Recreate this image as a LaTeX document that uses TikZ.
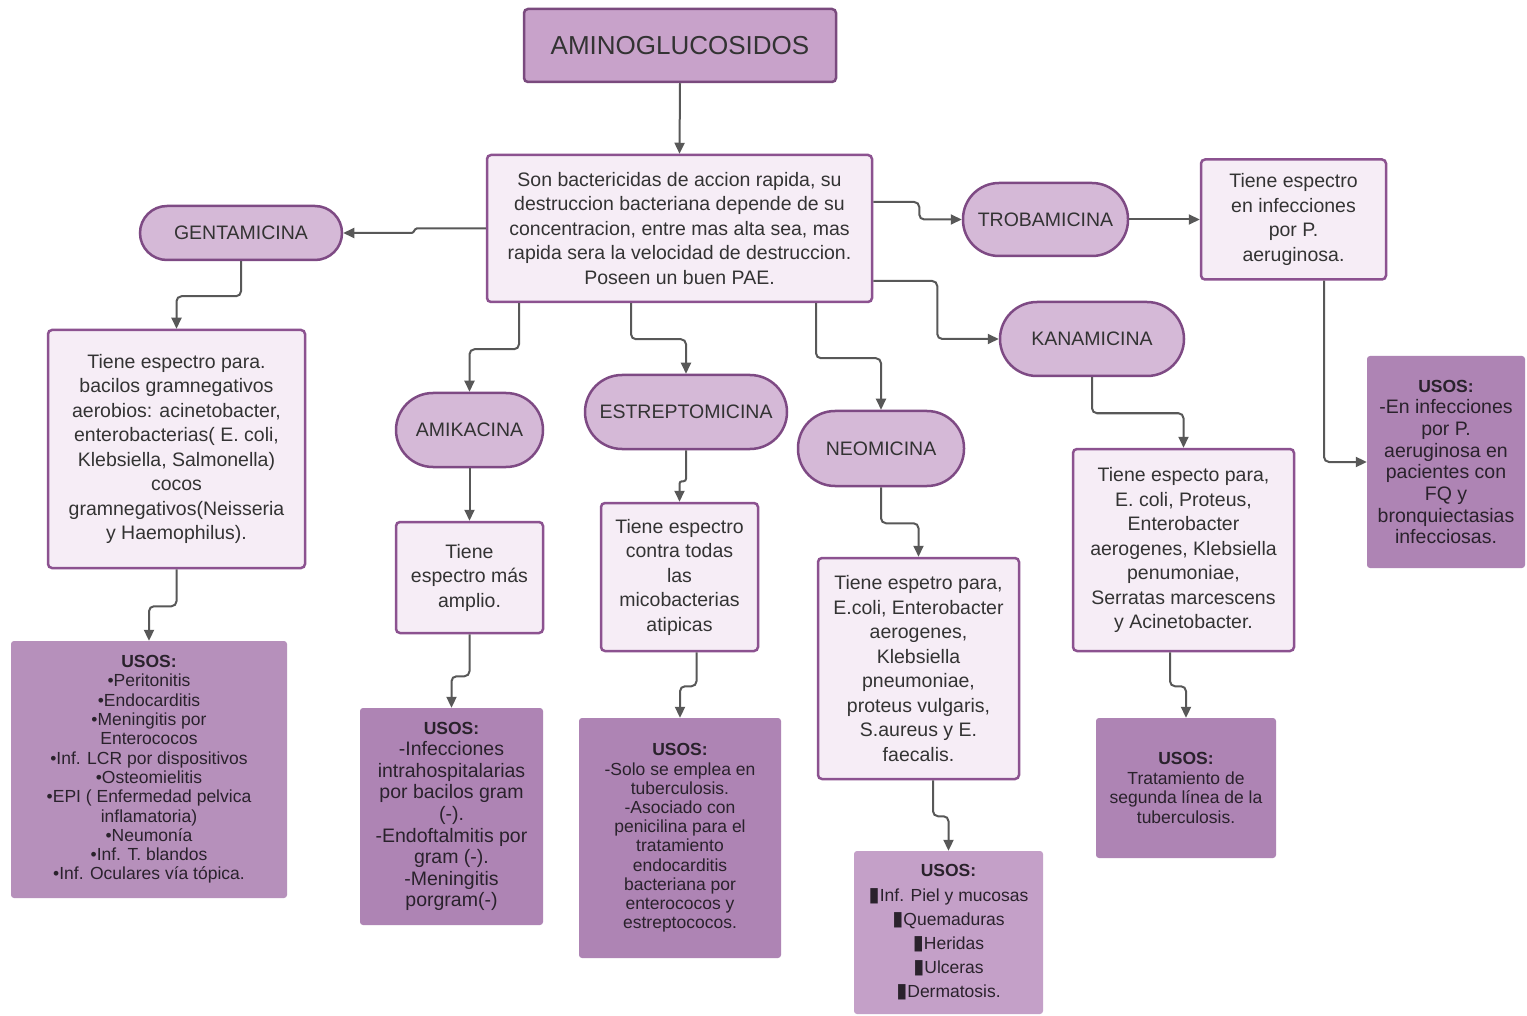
\documentclass[tikz,border=0pt]{standalone}
\usepackage{fontspec}
\setmainfont{Liberation Sans}
\newfontfamily\dejavu{DejaVu Sans}
\usetikzlibrary{arrows.meta}
\definecolor{titlefill}{HTML}{C8A2CA}
\definecolor{titledraw}{HTML}{7A4A7E}
\definecolor{pillfill}{HTML}{D5B9D7}
\definecolor{pilldraw}{HTML}{7E4A84}
\definecolor{lightfill}{HTML}{F6EDF6}
\definecolor{lightdraw}{HTML}{8C5290}
\definecolor{usosfill}{HTML}{AE84B4}
\definecolor{usosneo}{HTML}{C4A0C8}
\definecolor{usosgent}{HTML}{B690BB}
\definecolor{txt}{HTML}{333333}
\definecolor{usostxt}{HTML}{2A222C}
\definecolor{arr}{HTML}{585858}
\newcommand{\blk}{{\dejavu\scalebox{1.15}[1.15]{\char"25AE}}}
\tikzset{
  x=1pt, y=-1pt,
  titlebox/.style={draw=titledraw, fill=titlefill, line width=2.5pt, rounded corners=4pt,
    inner sep=0pt, align=center, text=txt, font=\fontsize{26}{30}\selectfont},
  pill/.style={draw=pilldraw, fill=pillfill, line width=2.5pt, inner sep=0pt,
    align=center, text=txt, font=\fontsize{19.5}{24}\selectfont},
  lightbox/.style={draw=lightdraw, fill=lightfill, line width=2.5pt, rounded corners=4pt,
    inner sep=0pt, align=center, text=txt, font=\fontsize{19.5}{24.5}\selectfont},
  usosbox/.style={fill=usosfill, rounded corners=3pt, inner sep=0pt, align=center, text=usostxt},
  conn/.style={draw=arr, line width=2pt, rounded corners=5pt,
    -{Triangle[length=11pt,width=10pt]}},
}
\begin{document}
\begin{tikzpicture}
\fill[white] (0,0) rectangle (1527,1016);
\useasboundingbox (0,0) rectangle (1527,1016);

% title and center
\node[titlebox, minimum width=312pt, minimum height=73pt] (ti) at (680,45.5) {AMINOGLUCOSIDOS};
\node[lightbox, minimum width=385pt, minimum height=147pt] (c) at (679.5,228.5)
  {Son bactericidas de accion rapida, su\\destruccion bacteriana depende de su\\concentracion, entre mas alta sea, mas\\rapida sera la velocidad de destruccion.\\Poseen un buen PAE.};

% pills
\node[pill, rounded corners=27pt, minimum width=202pt, minimum height=54pt] (ge) at (241,233) {GENTAMICINA};
\node[pill, rounded corners=36pt, minimum width=165pt, minimum height=73pt] (tr) at (1045.5,219.5) {TROBAMICINA};
\node[pill, rounded corners=37pt, minimum width=184pt, minimum height=74pt] (ka) at (1092,339) {KANAMICINA};
\node[pill, rounded corners=37pt, minimum width=147pt, minimum height=74pt] (am) at (469.5,430) {AMIKACINA};
\node[pill, rounded corners=37pt, minimum width=202pt, minimum height=74pt] (es) at (686,412) {ESTREPTOMICINA};
\node[pill, rounded corners=37pt, minimum width=166pt, minimum height=75pt] (ne) at (881,448.5) {NEOMICINA};

% light text boxes
\node[lightbox, minimum width=257pt, minimum height=238pt] (gt) at (176.5,449)
  {Tiene espectro para.\\bacilos gramnegativos\\aerobios: acinetobacter,\\enterobacterias( E. coli,\\Klebsiella, Salmonella)\\cocos\\gramnegativos(Neisseria\\y Haemophilus).};
\node[lightbox, minimum width=185pt, minimum height=120pt] (tt) at (1293.5,219.5)
  {Tiene espectro\\en infecciones\\por P.\\aeruginosa.};
\node[lightbox, minimum width=221pt, minimum height=202pt] (kt) at (1183.5,550)
  {Tiene especto para,\\E. coli, Proteus,\\Enterobacter\\aerogenes, Klebsiella\\penumoniae,\\Serratas marcescens\\y Acinetobacter.};
\node[lightbox, minimum width=147pt, minimum height=111pt] (at) at (469.5,577.5)
  {Tiene\\espectro más\\amplio.};
\node[lightbox, minimum width=157pt, minimum height=148pt] (et) at (679.5,577)
  {Tiene espectro\\contra todas\\las\\micobacterias\\atipicas};
\node[lightbox, minimum width=201pt, minimum height=221pt] (nt) at (918.5,668.5)
  {Tiene espetro para,\\E.coli, Enterobacter\\aerogenes,\\Klebsiella\\pneumoniae,\\proteus vulgaris,\\S.aureus y E.\\faecalis.};

% usos boxes
\node[usosbox, fill=usosgent, minimum width=276pt, minimum height=257pt,
  font=\fontsize{17.5}{19.3}\selectfont] (gu) at (149,769.5)
  {\textbf{USOS:}\\•Peritonitis\\•Endocarditis\\•Meningitis por\\Enterococos\\•Inf. LCR por dispositivos\\•Osteomielitis\\•EPI ( Enfermedad pelvica\\inflamatoria)\\•Neumonía\\•Inf. T. blandos\\•Inf. Oculares vía tópica.};
\node[usosbox, minimum width=183pt, minimum height=217pt,
  font=\fontsize{19.5}{21.6}\selectfont] (au) at (451.5,816.5)
  {{\fontsize{17.5}{21.6}\selectfont\textbf{USOS:}}\\-Infecciones\\intrahospitalarias\\por bacilos gram\\(-).\\-Endoftalmitis por\\gram (-).\\-Meningitis\\porgram(-)};
\node[usosbox, minimum width=202pt, minimum height=240pt,
  font=\fontsize{17.5}{19.2}\selectfont] (eu) at (680,838)
  {\textbf{USOS:}\\-Solo se emplea en\\tuberculosis.\\-Asociado con\\penicilina para el\\tratamiento\\endocarditis\\bacteriana por\\enterococos y\\estreptococos.};
\node[usosbox, fill=usosneo, minimum width=189pt, minimum height=163pt,
  font=\fontsize{17.5}{24.2}\selectfont] (nu) at (948.5,932.5)
  {\textbf{USOS:}\\\blk Inf. Piel y mucosas\\\blk Quemaduras\\\blk Heridas\\\blk Ulceras\\\blk Dermatosis.};
\node[usosbox, minimum width=180pt, minimum height=140pt,
  font=\fontsize{17.5}{19.7}\selectfont] (ku) at (1186,788)
  {\textbf{USOS:}\\Tratamiento de\\segunda línea de la\\tuberculosis.};
\node[usosbox, minimum width=158pt, minimum height=212pt,
  font=\fontsize{19.5}{21.7}\selectfont] (tu) at (1446,462)
  {{\fontsize{17.5}{21.7}\selectfont\textbf{USOS:}}\\-En infecciones\\por P.\\aeruginosa en\\pacientes con\\FQ y\\bronquiectasias\\infecciosas.};

% connectors
\draw[conn] (ti.south) -- (c.north);
\draw[conn, rounded corners=1pt] (c.west) -- ++(-70,0) -- ++(-3,4.5) -- (ge.east);
\draw[conn] ([yshift=26.5pt]c.east) -- ++(46,0) |- (tr.west);
\draw[conn] ([yshift=-52.5pt]c.east) -- ++(64,0) |- (ka.west);
\draw[conn] ([xshift=-160.5pt]c.south) -- ++(0,46) -| (am.north);
\draw[conn] ([xshift=-48.5pt]c.south) -- ++(0,36) -| (es.north);
\draw[conn] ([xshift=136.5pt]c.south) -- ++(0,55) -| (ne.north);
\draw[conn] (ge.south) -- ++(0,35) -| (gt.north);
\draw[conn] (gt.south) -- ++(0,37) -| (gu.north);
\draw[conn] (am.south) -- (at.north);
\draw[conn] (at.south) -- ++(0,42) -| (au.north);
\draw[conn, rounded corners=2.5pt] (es.south) -- ++(0,31) -| (et.north);
\draw[conn] ([xshift=17pt]et.south) -- ++(0,34) -| (eu.north);
\draw[conn] (ne.south) -- ++(0,36) -| (nt.north);
\draw[conn] ([xshift=14.5pt]nt.south) -- ++(0,36) -| (nu.north);
\draw[conn] (ka.south) -- ++(0,36) -| (kt.north);
\draw[conn] ([xshift=-13.5pt]kt.south) -- ++(0,34) -| (ku.north);
\draw[conn] (tr.east) -- (tt.west);
\draw[conn] ([xshift=30.5pt]tt.south) |- (tu.west);
\end{tikzpicture}
\end{document}
